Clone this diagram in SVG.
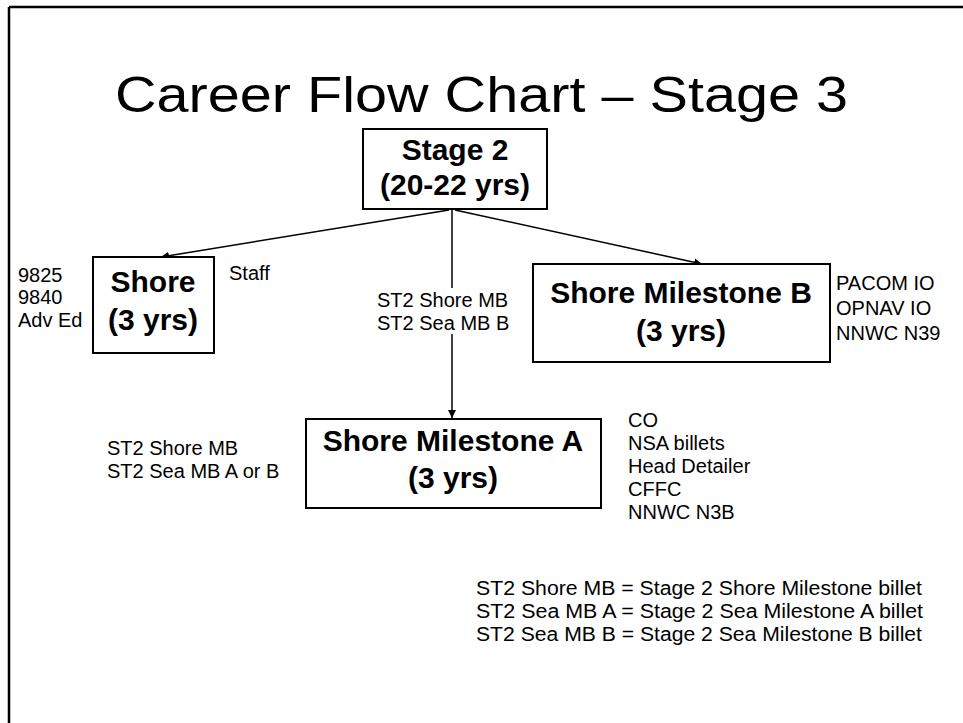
<svg xmlns="http://www.w3.org/2000/svg" width="963" height="723" viewBox="0 0 963 723">
  <style>
    .title { font-family: "Liberation Sans", Arial, sans-serif; font-size: 50px; fill: #000; }
    .box { fill: #fff; stroke: #000; stroke-width: 2; }
    .head { font-family: "Liberation Sans", Arial, sans-serif; font-size: 30px; font-weight: bold; fill: #000; text-anchor: middle; }
    .note { font-family: "Liberation Sans", Arial, sans-serif; font-size: 20px; fill: #000; }
    .link { stroke: #000; stroke-width: 1.5; fill: none; marker-end: url(#arrow); }
  </style>
  <defs>
    <marker id="arrow" viewBox="0 0 10 10" refX="10" refY="5" markerWidth="8" markerHeight="8" markerUnits="userSpaceOnUse" orient="auto">
      <path d="M0,0 L10,5 L0,10 z" fill="#000"/>
    </marker>
  </defs>

  <rect width="963" height="723" fill="#fff"/>
  <!-- page frame: top and left edges -->
  <path d="M9,7 H963 M9,7 V723" stroke="#000" stroke-width="2.5" fill="none"/>

  <text class="title" x="115" y="112" textLength="733" lengthAdjust="spacingAndGlyphs">Career Flow Chart – Stage 3</text>

  <g id="connectors">
    <line class="link" x1="449" y1="210" x2="161" y2="257"/>
    <line class="link" x1="455" y1="210" x2="702" y2="264"/>
    <line class="link" x1="452" y1="210" x2="452" y2="418"/>
  </g>

  <g id="stage2">
    <rect class="box" x="363" y="129" width="184" height="80"/>
    <text class="head" x="455" y="160">Stage 2</text>
    <text class="head" x="455" y="195">(20-22 yrs)</text>
  </g>

  <g id="shore">
    <rect class="box" x="93" y="257" width="121" height="96"/>
    <text class="head" x="153" y="292">Shore</text>
    <text class="head" x="153" y="330">(3 yrs)</text>
    <text class="note" x="18" y="282">9825</text>
    <text class="note" x="18" y="304">9840</text>
    <text class="note" x="18" y="327">Adv Ed</text>
    <text class="note" x="229" y="280">Staff</text>
  </g>

  <g id="shore-milestone-b">
    <rect class="box" x="533" y="264" width="297" height="98"/>
    <text class="head" x="681" y="303">Shore Milestone B</text>
    <text class="head" x="681" y="341">(3 yrs)</text>
    <text class="note" x="836" y="290">PACOM IO</text>
    <text class="note" x="836" y="315">OPNAV IO</text>
    <text class="note" x="836" y="340">NNWC N39</text>
  </g>

  <g id="shore-milestone-a">
    <rect class="box" x="306" y="419" width="295" height="89"/>
    <text class="head" x="453" y="451">Shore Milestone A</text>
    <text class="head" x="453" y="488">(3 yrs)</text>
    <text class="note" x="107" y="455">ST2 Shore MB</text>
    <text class="note" x="107" y="478">ST2 Sea MB A or B</text>
    <text class="note" x="628" y="427">CO</text>
    <text class="note" x="628" y="450">NSA billets</text>
    <text class="note" x="628" y="473">Head Detailer</text>
    <text class="note" x="628" y="496">CFFC</text>
    <text class="note" x="628" y="519">NNWC N3B</text>
  </g>

  <!-- label on the vertical connector, with a white text box that hides the line behind it -->
  <g id="vertical-label">
    <rect x="374" y="288" width="154" height="46" fill="#fff"/>
    <text class="note" x="377" y="307">ST2 Shore MB</text>
    <text class="note" x="377" y="330">ST2 Sea MB B</text>
  </g>

  <g id="legend">
    <text class="note" x="476" y="595" textLength="446" lengthAdjust="spacingAndGlyphs">ST2 Shore MB = Stage 2 Shore Milestone billet</text>
    <text class="note" x="476" y="618" textLength="447" lengthAdjust="spacingAndGlyphs">ST2 Sea MB A = Stage 2 Sea Milestone A billet</text>
    <text class="note" x="476" y="641" textLength="446" lengthAdjust="spacingAndGlyphs">ST2 Sea MB B = Stage 2 Sea Milestone B billet</text>
  </g>
</svg>
